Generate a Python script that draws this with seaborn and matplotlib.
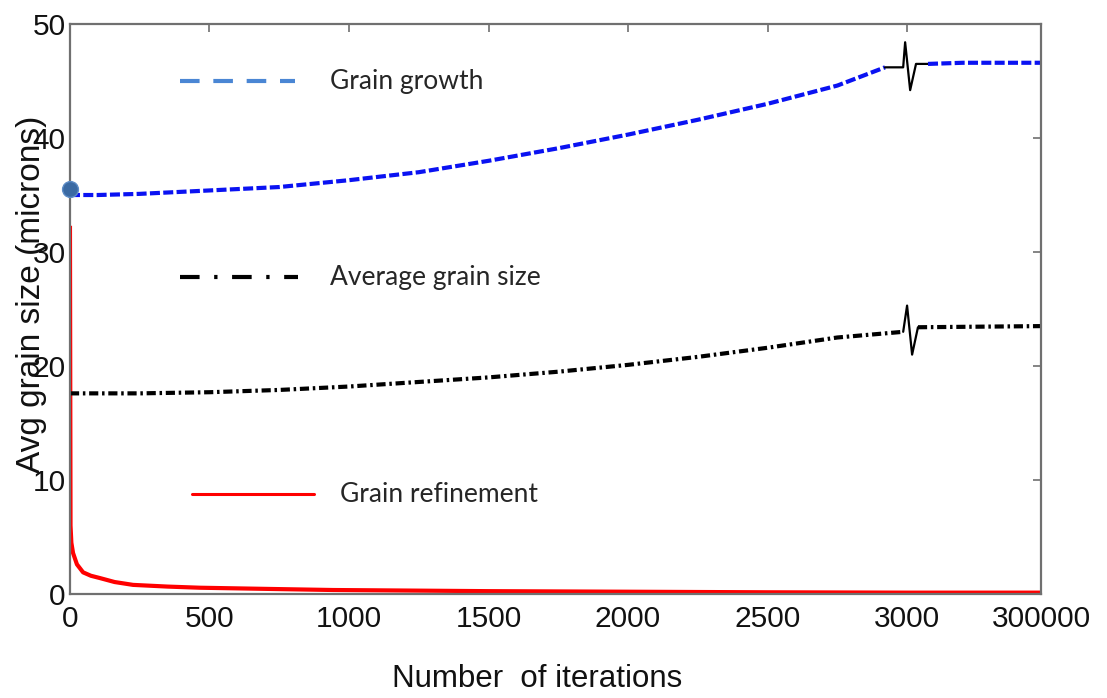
import numpy as np
import pandas as pd
import matplotlib
matplotlib.use("Agg")
import matplotlib.pyplot as plt
import seaborn as sns

# ---------------- data ----------------
# x positions on the (broken) axis; the last tick stands for 300000
growth_x = [0, 100, 250, 500, 750, 1000, 1250, 1500, 1750, 2000, 2250, 2500, 2750, 2921]
growth_y = [35.0, 35.0, 35.1, 35.4, 35.7, 36.3, 37.0, 38.0, 39.1, 40.3, 41.6, 43.0, 44.6, 46.2]
growth_break_x = [2921, 2986, 2993, 3011, 3032, 3075]
growth_break_y = [46.2, 46.2, 48.4, 44.2, 46.5, 46.5]
growth_tail_x = [3075, 3200, 3480]
growth_tail_y = [46.5, 46.6, 46.6]

avg_x = [0, 250, 500, 750, 1000, 1250, 1500, 1750, 2000, 2250, 2500, 2750, 2986]
avg_y = [17.6, 17.6, 17.7, 17.9, 18.2, 18.6, 19.0, 19.5, 20.1, 20.8, 21.6, 22.5, 23.0]
avg_break_x = [2986, 3000, 3018, 3039]
avg_break_y = [23.0, 25.3, 21.0, 23.4]
avg_tail_x = [3039, 3480]
avg_tail_y = [23.4, 23.5]

refine_x = [0, 2, 5, 11, 25, 47, 75, 107, 160, 226, 350, 466, 700, 943, 1500, 2000, 2500, 3000, 3480]
refine_y = [32.3, 6.0, 4.5, 3.6, 2.6, 1.9, 1.6, 1.4, 1.05, 0.8, 0.65, 0.55, 0.45, 0.35, 0.25, 0.2, 0.15, 0.12, 0.12]

start_x = [0]
start_y = [35.5]

x_ticks = [0, 500, 1000, 1500, 2000, 2500, 3000, 3480]
x_tick_labels = ["0", "500", "1000", "1500", "2000", "2500", "3000", "300000"]
y_ticks = [0, 10, 20, 30, 40, 50]

series_labels = ["Grain growth", "Average grain size", "Grain refinement"]

# ---------------- style ----------------
sns.set_style("white")
plt.rcParams["font.family"] = ["Liberation Sans", "DejaVu Sans"]

fig = plt.figure(figsize=(11.07, 6.98), dpi=100)
ax = fig.add_axes([0.0632, 0.149, 0.8772, 0.8166])

BLUE = "#0a12f2"
RED = "#ff0000"
BLACK = "#000000"
dash_blue = (0, (2.4, 0.8))
dash_dot = (0, (2.2, 0.9, 0.6, 0.9))

def line(x, y, **kw):
    df = pd.DataFrame({"x": x, "y": y})
    sns.lineplot(data=df, x="x", y="y", ax=ax, sort=False, estimator=None, **kw)

line(refine_x, refine_y, color=RED, linewidth=3.0, solid_capstyle="butt")
line(growth_x, growth_y, color=BLUE, linewidth=3.0, linestyle=dash_blue)
line(growth_break_x, growth_break_y, color=BLACK, linewidth=1.6)
line(growth_tail_x, growth_tail_y, color=BLUE, linewidth=3.0, linestyle=dash_blue)
line(avg_x, avg_y, color=BLACK, linewidth=3.0, linestyle=dash_dot)
line(avg_break_x, avg_break_y, color=BLACK, linewidth=1.6)
line(avg_tail_x, avg_tail_y, color=BLACK, linewidth=3.0, linestyle=dash_dot)

sns.scatterplot(x=start_x, y=start_y, ax=ax, s=130, color="#3b6aa3",
                edgecolor="#5d8cc6", linewidth=1.0, zorder=5, clip_on=False)

ax.set_xlim(0, 3480)
ax.set_ylim(0, 50)
ax.set_xticks(x_ticks)
ax.set_xticklabels(x_tick_labels)
ax.set_yticks(y_ticks)

for s in ax.spines.values():
    s.set_visible(True)
    s.set_color("#707070")
    s.set_linewidth(1.6)

ax.tick_params(axis="both", which="both", direction="in", length=6, width=1.2,
               color="#707070", top=True, right=True, labelsize=21.5,
               labelcolor="#111111")
ax.tick_params(axis="x", pad=8)
ax.tick_params(axis="y", pad=3)

ax.set_xlabel("Number  of iterations", fontsize=22.5, color="#111111")
ax.set_ylabel("Avg grain size (microns)", fontsize=24, color="#111111")
ax.xaxis.set_label_coords(0.481, -0.122)
ax.yaxis.set_label_coords(-0.024, 0.525)

# ---------------- legend-like annotations ----------------
tf = ax.transAxes
ax.plot([0.113, 0.232], [0.900, 0.900], transform=tf, color="#4a86d4",
        linewidth=3.0, linestyle=(0, (4.7, 3.3)), solid_capstyle="butt")
ax.plot([0.113, 0.235], [0.556, 0.556], transform=tf, color=BLACK,
        linewidth=3.0, linestyle=(0, (4.7, 3.5, 0.8, 3.5)))
ax.plot([0.126, 0.251], [0.175, 0.175], transform=tf, color=RED, linewidth=2.2)

txt_kw = dict(transform=tf, va="center", ha="left", fontsize=19,
              color="#262626", family=["Lato", "DejaVu Sans"])
ax.text(0.268, 0.900, series_labels[0], **txt_kw)
ax.text(0.268, 0.556, series_labels[1], **txt_kw)
ax.text(0.278, 0.175, series_labels[2], **txt_kw)

fig.savefig("out.png", dpi=100)
